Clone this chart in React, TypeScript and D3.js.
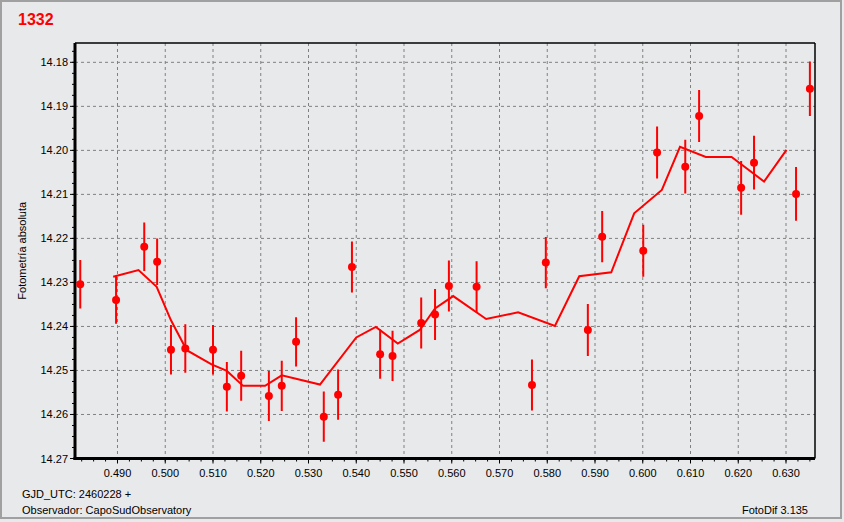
import React from "react";
import * as d3 from "d3";

const obsX = [0.4822, 0.4897, 0.4956, 0.4983, 0.5012, 0.5042, 0.5100, 0.5129, 0.5159, 0.5217, 0.5244, 0.5274, 0.5332, 0.5362, 0.5391, 0.5450, 0.5476, 0.5536, 0.5565, 0.5594, 0.5652, 0.5768, 0.5797, 0.5885, 0.5915, 0.6001, 0.6030, 0.6089, 0.6118, 0.6206, 0.6233, 0.6321, 0.6350];
const obsY = [14.2304, 14.2340, 14.2219, 14.2253, 14.2453, 14.2450, 14.2453, 14.2537, 14.2512, 14.2558, 14.2535, 14.2435, 14.2605, 14.2555, 14.2265, 14.2463, 14.2467, 14.2392, 14.2373, 14.2308, 14.2310, 14.2533, 14.2255, 14.2408, 14.2196, 14.2228, 14.2005, 14.2037, 14.1922, 14.2085, 14.2028, 14.2099, 14.1860];
const obsErr = [0.0055, 0.0054, 0.0055, 0.0053, 0.0056, 0.0055, 0.0056, 0.0056, 0.0057, 0.0057, 0.0057, 0.0056, 0.0057, 0.0057, 0.0058, 0.0056, 0.0057, 0.0058, 0.0058, 0.0058, 0.0058, 0.0058, 0.0058, 0.0059, 0.0058, 0.0059, 0.0059, 0.0061, 0.0059, 0.0061, 0.0061, 0.0061, 0.0062];

const lineX = [0.4891, 0.4944, 0.4982, 0.5012, 0.5045, 0.5097, 0.5129, 0.5163, 0.5209, 0.5244, 0.5324, 0.5400, 0.5441, 0.5487, 0.5533, 0.5565, 0.5603, 0.5672, 0.5739, 0.5816, 0.5867, 0.5934, 0.5982, 0.6040, 0.6078, 0.6132, 0.6186, 0.6254, 0.6301];
const lineY = [14.2287, 14.2272, 14.2310, 14.2386, 14.2454, 14.2486, 14.2501, 14.2535, 14.2535, 14.2511, 14.2532, 14.2425, 14.2401, 14.2439, 14.2408, 14.2359, 14.2331, 14.2383, 14.2368, 14.2399, 14.2286, 14.2277, 14.2143, 14.2090, 14.1992, 14.2015, 14.2015, 14.2071, 14.1999];

const xTicks = [0.49, 0.5, 0.51, 0.52, 0.53, 0.54, 0.55, 0.56, 0.57, 0.58, 0.59, 0.6, 0.61, 0.62, 0.63];
const yTicks = [14.18, 14.19, 14.2, 14.21, 14.22, 14.23, 14.24, 14.25, 14.26, 14.27];

const title = "1332";
const yLabel = "Fotometría absoluta";
const footLeft1 = "GJD_UTC: 2460228 +";
const footLeft2 = "Observador: CapoSudObservatory";
const footRight = "FotoDif 3.135";

const W = 844;
const H = 522;
const L = 75, T = 43, R = 815, B = 458.5;
const RED = "#ff0000";
const FONT = "'Liberation Sans', Arial, sans-serif";

export default function App() {
  const x = d3.scaleLinear().domain([0.4811, 0.63607]).range([L, R]);
  const y = d3.scaleLinear().domain([14.17561, 14.27]).range([T, B]);

  const xMinor = d3.range(0.4825, 0.636, 0.0025).filter((v) => x(v) > L && x(v) < R);
  const yMinor = d3.range(14.1775, 14.27, 0.0025).filter((v) => y(v) > T && y(v) < B);

  const line = d3
    .line<number>()
    .x((_, i) => x(lineX[i]))
    .y((d) => y(d));

  return (
    <svg width={W} height={H} style={{ position: "absolute", left: 0, top: 0, fontFamily: FONT }}>
      <rect x={0} y={0} width={W} height={H} fill="#e8e9eb" />
      <rect x={1} y={1} width={840} height={517} fill="none" stroke="#a0a0a0" strokeWidth={2} />
      <text x={18} y={25} fill={RED} fontSize={16} fontWeight="bold">{title}</text>

      <clipPath id="plot">
        <rect x={L} y={T} width={R - L} height={B - T} />
      </clipPath>

      {xTicks.map((t) => (
        <line key={"gx" + t} x1={x(t)} x2={x(t)} y1={T} y2={B} stroke="#808080" strokeDasharray="3,3" strokeWidth={1} />
      ))}
      {yTicks.map((t) => (
        <line key={"gy" + t} x1={L} x2={R} y1={y(t)} y2={y(t)} stroke="#808080" strokeDasharray="3,3" strokeWidth={1} />
      ))}

      {/* frame */}
      <line x1={L} x2={R} y1={T} y2={T} stroke="#000" strokeWidth={1.5} />
      <line x1={R} x2={R} y1={T} y2={B} stroke="#000" strokeWidth={1.5} />
      <line x1={L} x2={L} y1={T} y2={B + 1.5} stroke="#000" strokeWidth={3} />
      <line x1={L - 1.5} x2={R} y1={B} y2={B} stroke="#000" strokeWidth={3} />

      {/* ticks */}
      {yTicks.map((t) => (
        <line key={"ty" + t} x1={L - 5} x2={L} y1={y(t)} y2={y(t)} stroke="#000" strokeWidth={1} />
      ))}
      {yMinor.map((t) => (
        <line key={"my" + t} x1={L - 3} x2={L} y1={y(t)} y2={y(t)} stroke="#000" strokeWidth={1} />
      ))}
      {xTicks.map((t) => (
        <line key={"tx" + t} x1={x(t)} x2={x(t)} y1={B} y2={B + 5} stroke="#000" strokeWidth={1} />
      ))}
      {xMinor.map((t) => (
        <line key={"mx" + t} x1={x(t)} x2={x(t)} y1={B} y2={B + 3} stroke="#000" strokeWidth={1} />
      ))}

      {yTicks.map((t) => (
        <text key={"ly" + t} x={L - 7} y={y(t) + 4} textAnchor="end" fontSize={11} fill="#000">
          {t.toFixed(2)}
        </text>
      ))}
      {xTicks.map((t) => (
        <text key={"lx" + t} x={x(t)} y={477} textAnchor="middle" fontSize={11} fill="#000">
          {t.toFixed(3)}
        </text>
      ))}

      <text transform={`translate(26,${(T + B) / 2}) rotate(-90)`} textAnchor="middle" fontSize={11} fill="#000">
        {yLabel}
      </text>

      <g clipPath="url(#plot)">
        <path d={line(lineY) || ""} fill="none" stroke={RED} strokeWidth={2} strokeLinejoin="miter" />
        {obsY.map((v, i) => (
          <g key={"p" + i}>
            <line x1={x(obsX[i])} x2={x(obsX[i])} y1={y(v - obsErr[i])} y2={y(v + obsErr[i])} stroke={RED} strokeWidth={2} />
            <circle cx={x(obsX[i])} cy={y(v)} r={4} fill={RED} />
          </g>
        ))}
      </g>

      <text x={22} y={498} fontSize={11} fill="#000">{footLeft1}</text>
      <text x={22} y={514} fontSize={11} fill="#000">{footLeft2}</text>
      <text x={808} y={514} textAnchor="end" fontSize={11} fill="#000">{footRight}</text>
    </svg>
  );
}
